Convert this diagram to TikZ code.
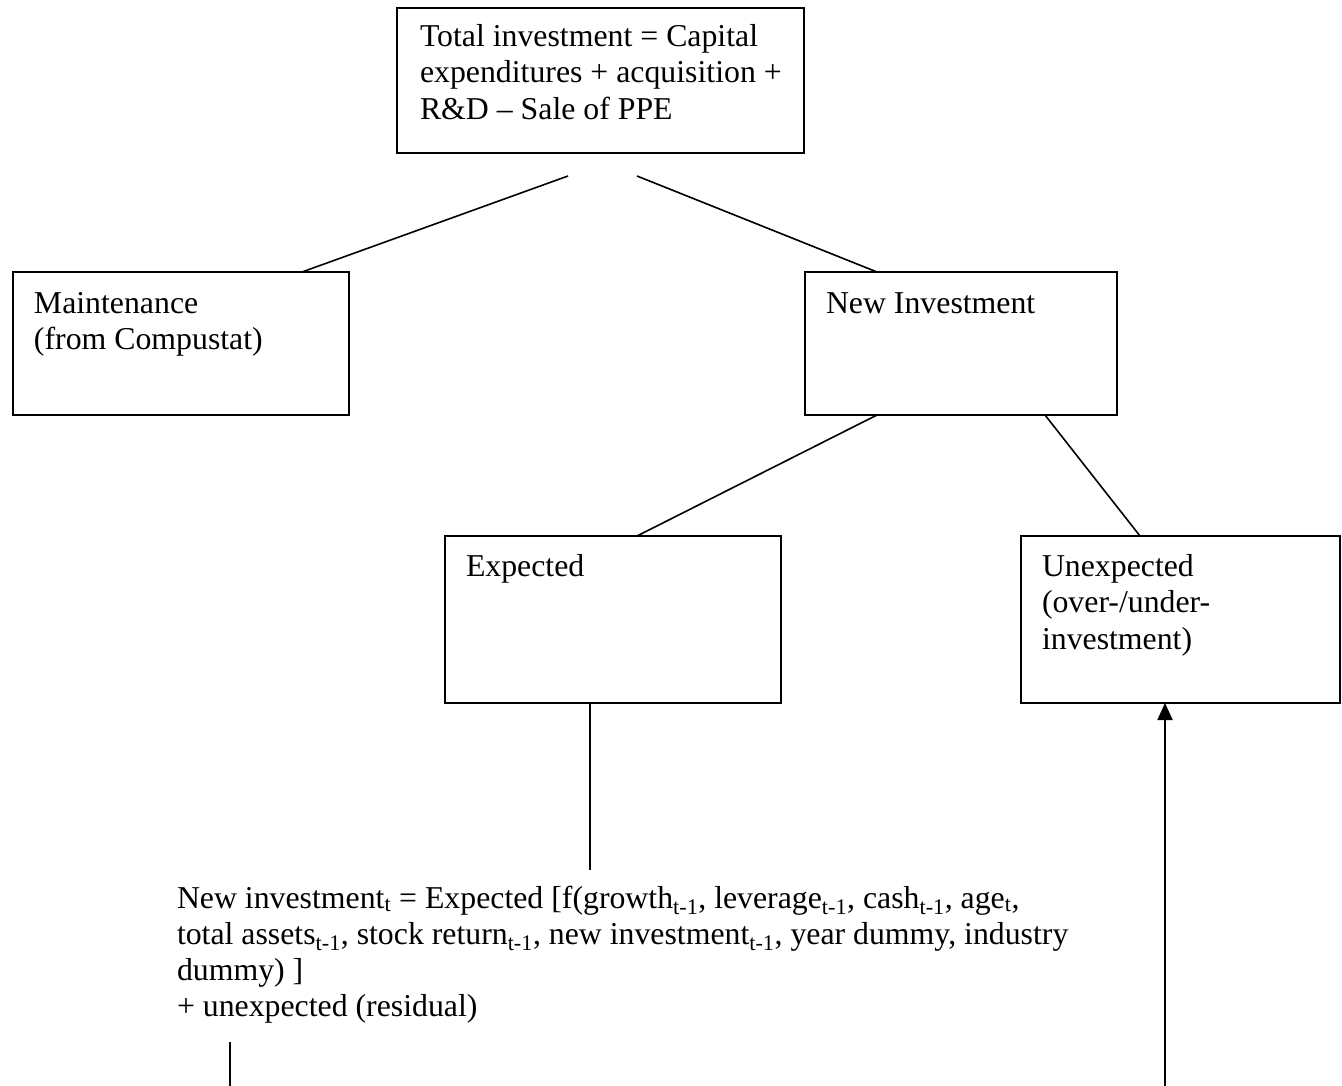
\documentclass[tikz,border=0pt]{standalone}
\usepackage{fontspec}
\setmainfont{Liberation Serif}
\usetikzlibrary{arrows.meta}

\tikzset{
  box/.style={draw, line width=2pt, inner sep=0pt, outer sep=0pt, anchor=north west},
  txt/.style={inner sep=0pt, outer sep=0pt, anchor=base west, font=\fontsize{31.8}{36.5}\selectfont},
  link/.style={line width=1.6pt},
  uparrow/.style={line width=2pt, -{Triangle[length=17pt,width=15pt]}}
}

\begin{document}
\begin{tikzpicture}[x=1pt, y=-1pt]
  \useasboundingbox (0,0) rectangle (1342,1086);

  % boxes
  \node[box, minimum width=407pt, minimum height=145pt] (total) at (397,8) {};
  \node[box, minimum width=336pt, minimum height=143pt] (maint) at (13,272) {};
  \node[box, minimum width=312pt, minimum height=143pt] (newinv) at (805,272) {};
  \node[box, minimum width=336pt, minimum height=167pt] (expected) at (445,536) {};
  \node[box, minimum width=319pt, minimum height=167pt] (unexp) at (1021,536) {};

  % box texts
  \node[txt] (total1) at (420,47) {Total investment = Capital};
  \node[txt] (total2) at (420,83) {expenditures + acquisition +};
  \node[txt] (total3) at (420,120) {R\&D – Sale of PPE};

  \node[txt] (maint1) at (34,313) {Maintenance};
  \node[txt] (maint2) at (34,349) {(from Compustat)};

  \node[txt] (newinv1) at (826,313) {New Investment};

  \node[txt] (expected1) at (466,576) {Expected};

  \node[txt] (unexp1) at (1042,576) {Unexpected};
  \node[txt] (unexp2) at (1042,612) {(over-/under-};
  \node[txt] (unexp3) at (1042,649) {investment)};

  % regression text
  \node[txt] (eq1) at (177,908) {New investment\textsubscript{t} = Expected [f(growth\textsubscript{t-1}, leverage\textsubscript{t-1}, cash\textsubscript{t-1}, age\textsubscript{t},};
  \node[txt] (eq2) at (177,944) {total assets\textsubscript{t-1}, stock return\textsubscript{t-1}, new investment\textsubscript{t-1}, year dummy, industry};
  \node[txt] (eq3) at (177,980) {dummy) ]};
  \node[txt] (eq4) at (177,1016) {+ unexpected (residual)};

  % free ends of connectors
  \coordinate (splitL) at (568,176);
  \coordinate (splitR) at (637,176);
  \coordinate (eqtop) at (590,870);
  \coordinate (resA) at (230,1042);
  \coordinate (resB) at (230,1086);
  \coordinate (arrowfoot) at (1165,1086);

  % connectors
  \draw[link] (splitL) -- ([xshift=289pt]maint.north west);
  \draw[link] (splitR) -- ([xshift=72pt]newinv.north west);
  \draw[link] ([xshift=72pt]newinv.south west) -- ([xshift=192pt]expected.north west);
  \draw[link] ([xshift=240pt]newinv.south west) -- ([xshift=119pt]unexp.north west);
  \draw[link] ([xshift=145pt]expected.south west) -- (eqtop);
  \draw[link] (resA) -- (resB);
  \draw[uparrow] (arrowfoot) -- ([xshift=144pt]unexp.south west);
\end{tikzpicture}
\end{document}
